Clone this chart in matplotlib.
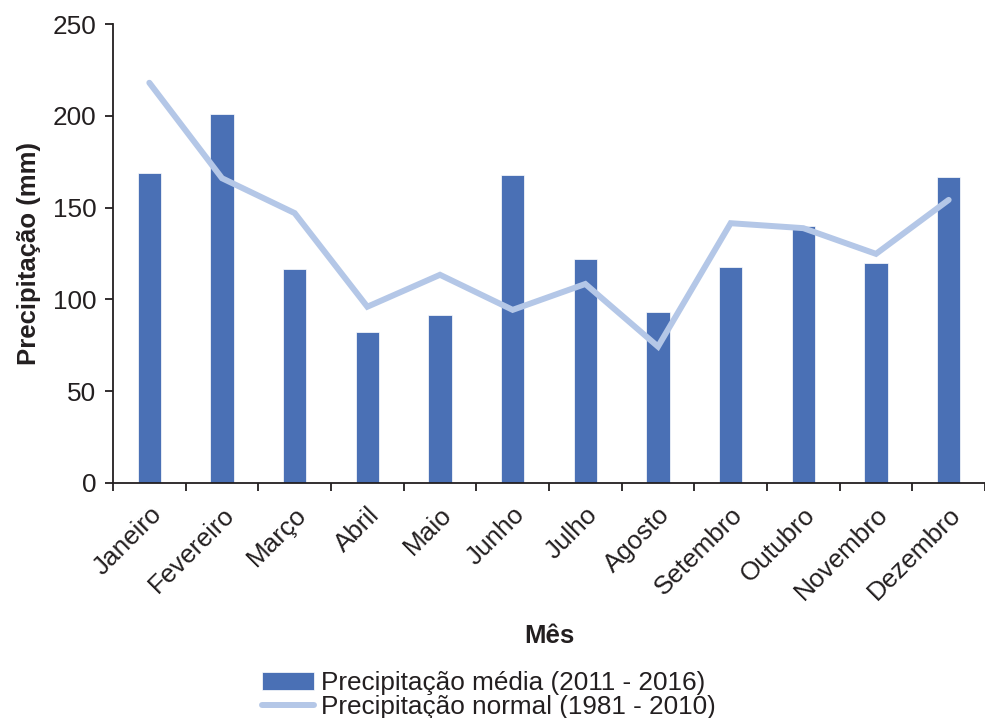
import matplotlib
matplotlib.use("Agg")
import matplotlib.pyplot as plt
import numpy as np
from matplotlib.ticker import FixedLocator

months = ["Janeiro", "Fevereiro", "Março", "Abril", "Maio", "Junho", "Julho",
          "Agosto", "Setembro", "Outubro", "Novembro", "Dezembro"]
media_2011_2016 = [168.8, 201.0, 116.8, 82.3, 91.6, 167.5, 122.0, 93.2, 117.5, 140.0, 119.7, 166.6]
normal_1981_2010 = [218.0, 166.0, 147.0, 96.0, 113.4, 94.3, 108.4, 74.3, 141.5, 138.8, 124.8, 154.2]
yticks = [0, 50, 100, 150, 200, 250]

plt.rcParams['font.family'] = ['Liberation Sans', 'DejaVu Sans']
dark = '#231F20'

fig = plt.figure(figsize=(9.85, 7.18), dpi=100)
ax = fig.add_axes([113/985, 1-483/718, 1-113/985, (483-24)/718])

x = np.arange(len(months))
bars = ax.bar(x, media_2011_2016, width=0.32, color='#4A70B5', edgecolor='white',
              linewidth=0.5, label='Precipitação média (2011 - 2016)', zorder=2)
line, = ax.plot(x, normal_1981_2010, color='#B4C7E7', linewidth=4.3, solid_capstyle='round',
                solid_joinstyle='miter', label='Precipitação normal (1981 - 2010)', zorder=3)

ax.set_xlim(-0.5, len(months) - 0.5)
ax.set_ylim(0, 250)
ax.set_yticks(yticks)
ax.set_xticks(x)
ax.set_xticklabels(months, rotation=45, ha='right', rotation_mode='anchor')
ax.xaxis.set_minor_locator(FixedLocator(np.arange(-0.5, len(months), 1.0)))
ax.tick_params(axis='x', which='major', length=0, pad=14, labelsize=18.8, labelcolor=dark)
ax.tick_params(axis='x', which='minor', length=6, width=1.3, color=dark, direction='out')
ax.tick_params(axis='y', length=6, width=1.3, color=dark, labelsize=18.8, labelcolor=dark, pad=6)

for s in ['top', 'right']:
    ax.spines[s].set_visible(False)
for s in ['left', 'bottom']:
    ax.spines[s].set_linewidth(1.3)
    ax.spines[s].set_color(dark)

ax.set_ylabel('Precipitação (mm)', fontsize=18.5, fontweight='bold', color=dark, labelpad=8)
ax.set_xlabel('Mês', fontsize=18.5, fontweight='bold', color=dark, labelpad=14)

fig.legend(handles=[bars, line], loc='center', bbox_to_anchor=(489/985, 1-695/718), frameon=False,
           fontsize=18.8, labelspacing=0.0, handlelength=2.0, handletextpad=0.25,
           borderpad=0.0, labelcolor=dark)

fig.savefig('out.png', dpi=100)
